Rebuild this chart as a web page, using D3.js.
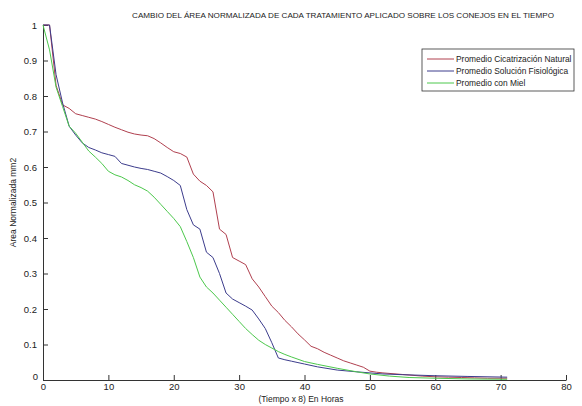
<!DOCTYPE html>
<html>
<head>
<meta charset="utf-8">
<script src="https://cdn.jsdelivr.net/npm/d3@7"></script>
<style>
  body { margin: 0; background: #fff; }
  text { font-family: Arial, "Liberation Sans", sans-serif; fill: #222; }
</style>
</head>
<body>
<div id="chart"></div>
<script>
// chart texts
const title = 'CAMBIO DEL ÁREA NORMALIZADA DE CADA TRATAMIENTO APLICADO SOBRE LOS CONEJOS EN EL TIEMPO';
const xLabel = '(Tiempo x 8) En Horas';
const yLabel = 'Area Normalizada mm2';
const seriesNames = ['Promedio Cicatrización Natural', 'Promedio Solución Fisiológica', 'Promedio con Miel'];

// tick values
const xTicks = [0, 10, 20, 30, 40, 50, 60, 70, 80];
const yTicks = [0, 0.1, 0.2, 0.3, 0.4, 0.5, 0.6, 0.7, 0.8, 0.9, 1];

// natural healing (red)
const tNatural = [0,1,2,3,4,5,6,7,8,9,10,11,12,13,14,15,16,17,18,19,20,21,22,23,24,25,26,27,28,29,30,31,32,33,34,35,36,37,38,39,40,41,42,43,44,45,46,47,48,49,50,51,52,54,56,58,60,62,64,66,68,70,71];
const vNatural = [1,1,0.83,0.775,0.765,0.75,0.745,0.74,0.735,0.728,0.72,0.712,0.705,0.698,0.693,0.69,0.688,0.68,0.668,0.655,0.643,0.638,0.628,0.58,0.56,0.548,0.53,0.425,0.41,0.345,0.335,0.325,0.285,0.262,0.235,0.208,0.19,0.168,0.15,0.13,0.113,0.095,0.088,0.078,0.07,0.062,0.054,0.048,0.042,0.036,0.025,0.022,0.02,0.017,0.014,0.011,0.009,0.008,0.007,0.006,0.005,0.005,0.005];

// saline solution (blue)
const tSaline = [0,1,2,3,4,5,6,7,8,9,10,11,12,13,14,15,16,17,18,19,20,21,22,23,24,25,26,27,28,29,30,31,32,33,34,35,36,37,38,39,40,42,45,48,50,52,55,60,65,71];
const vSaline = [1,1,0.86,0.78,0.715,0.69,0.668,0.655,0.648,0.64,0.635,0.63,0.61,0.605,0.6,0.596,0.593,0.588,0.583,0.573,0.562,0.548,0.48,0.437,0.425,0.36,0.345,0.3,0.245,0.228,0.218,0.208,0.197,0.172,0.145,0.105,0.062,0.057,0.053,0.049,0.045,0.037,0.028,0.023,0.02,0.017,0.015,0.012,0.01,0.008];

// honey (green)
const tHoney = [0,1,2,3,4,5,6,7,8,9,10,11,12,13,14,15,16,17,18,19,20,21,22,23,24,25,26,27,28,29,30,31,32,33,34,35,36,37,38,40,42,45,48,50,53,56,60,65,71];
const vHoney = [1,0.93,0.825,0.77,0.715,0.695,0.67,0.645,0.628,0.61,0.588,0.578,0.572,0.562,0.55,0.542,0.532,0.515,0.495,0.475,0.455,0.432,0.39,0.345,0.29,0.262,0.245,0.225,0.205,0.185,0.165,0.145,0.128,0.112,0.1,0.09,0.08,0.072,0.065,0.052,0.044,0.033,0.023,0.017,0.011,0.007,0.005,0.003,0.002];

const colors = ['#b0404f', '#3c3c8c', '#4cc84c'];

function LineChart(_) {
    function exports() {
        const root = _;
        const width = 582;
        const height = 406;
        const margin = {t:25, r:16, b:26, l:43};
        const w = width - (margin.l + margin.r);
        const h = height - (margin.t + margin.b);

        const svg = d3.select(root).append('svg')
            .attr('width', width)
            .attr('height', height);

        // scales
        const scaleX = d3.scaleLinear().domain([0, 80]).range([0, w]);
        const scaleY = d3.scaleLinear().domain([0, 1]).range([h, 0]);

        // title
        svg.append('text')
            .attr('x', 343)
            .attr('y', 18)
            .attr('text-anchor', 'middle')
            .style('font-size', '8.1px')
            .text(title);

        const plot = svg.append('g')
            .attr('transform', `translate(${margin.l},${margin.t})`);

        // axes, ticks pointing inward
        const xAxis = plot.append('g')
            .attr('transform', `translate(0,${h})`)
            .call(d3.axisBottom(scaleX).tickValues(xTicks).tickSizeInner(-5).tickSizeOuter(0).tickPadding(3).tickFormat(d3.format('d')));
        const yAxis = plot.append('g')
            .call(d3.axisLeft(scaleY).tickValues(yTicks).tickSizeInner(-5).tickSizeOuter(0).tickPadding(6).tickFormat(d => d === 0 ? '0' : d3.format('.1f')(d).replace(/^1\.0$/, '1')));
        [xAxis, yAxis].forEach(a => {
            a.select('.domain').attr('stroke', '#333');
            a.selectAll('.tick line').attr('stroke', '#333');
            a.selectAll('.tick text').style('font-size', '9.5px').style('font-family', 'Arial, "Liberation Sans", sans-serif').attr('fill', '#333');
        });
        // the zero label on y sits a little higher and left, like the original
        yAxis.selectAll('.tick text').filter(d => d === 0).attr('dy', '-0.1em').attr('x', -5);

        // axis labels
        svg.append('text')
            .attr('x', 301)
            .attr('y', 402)
            .attr('text-anchor', 'middle')
            .style('font-size', '8.5px')
            .text(xLabel);
        svg.append('text')
            .attr('transform', `translate(16,${margin.t + h/2}) rotate(-90)`)
            .attr('text-anchor', 'middle')
            .style('font-size', '8.5px')
            .text(yLabel);

        // lines
        const line = d3.line()
            .x(d => scaleX(d[0]))
            .y(d => scaleY(d[1]));
        const series = [
            d3.zip(tNatural, vNatural),
            d3.zip(tSaline, vSaline),
            d3.zip(tHoney, vHoney)
        ];
        plot.selectAll('.serie')
            .data(series)
            .enter()
            .append('path')
            .classed('serie', true)
            .attr('d', line)
            .attr('fill', 'none')
            .attr('stroke', (d, i) => colors[i])
            .attr('stroke-width', 1);

        // legend
        const legend = svg.append('g')
            .attr('transform', 'translate(422,49)');
        legend.append('rect')
            .attr('width', 152)
            .attr('height', 42)
            .attr('fill', '#fff')
            .attr('stroke', '#333')
            .attr('stroke-width', 0.8);
        const items = legend.selectAll('.item')
            .data(seriesNames)
            .enter()
            .append('g')
            .attr('transform', (d, i) => `translate(0,${10 + i * 12})`);
        items.append('line')
            .attr('x1', 5).attr('x2', 32)
            .attr('stroke', (d, i) => colors[i])
            .attr('stroke-width', 1);
        items.append('text')
            .attr('x', 34)
            .attr('dy', '0.35em')
            .style('font-size', '8.4px')
            .text(d => d);
    }
    return exports;
}

LineChart(document.getElementById('chart'))();
</script>
</body>
</html>
